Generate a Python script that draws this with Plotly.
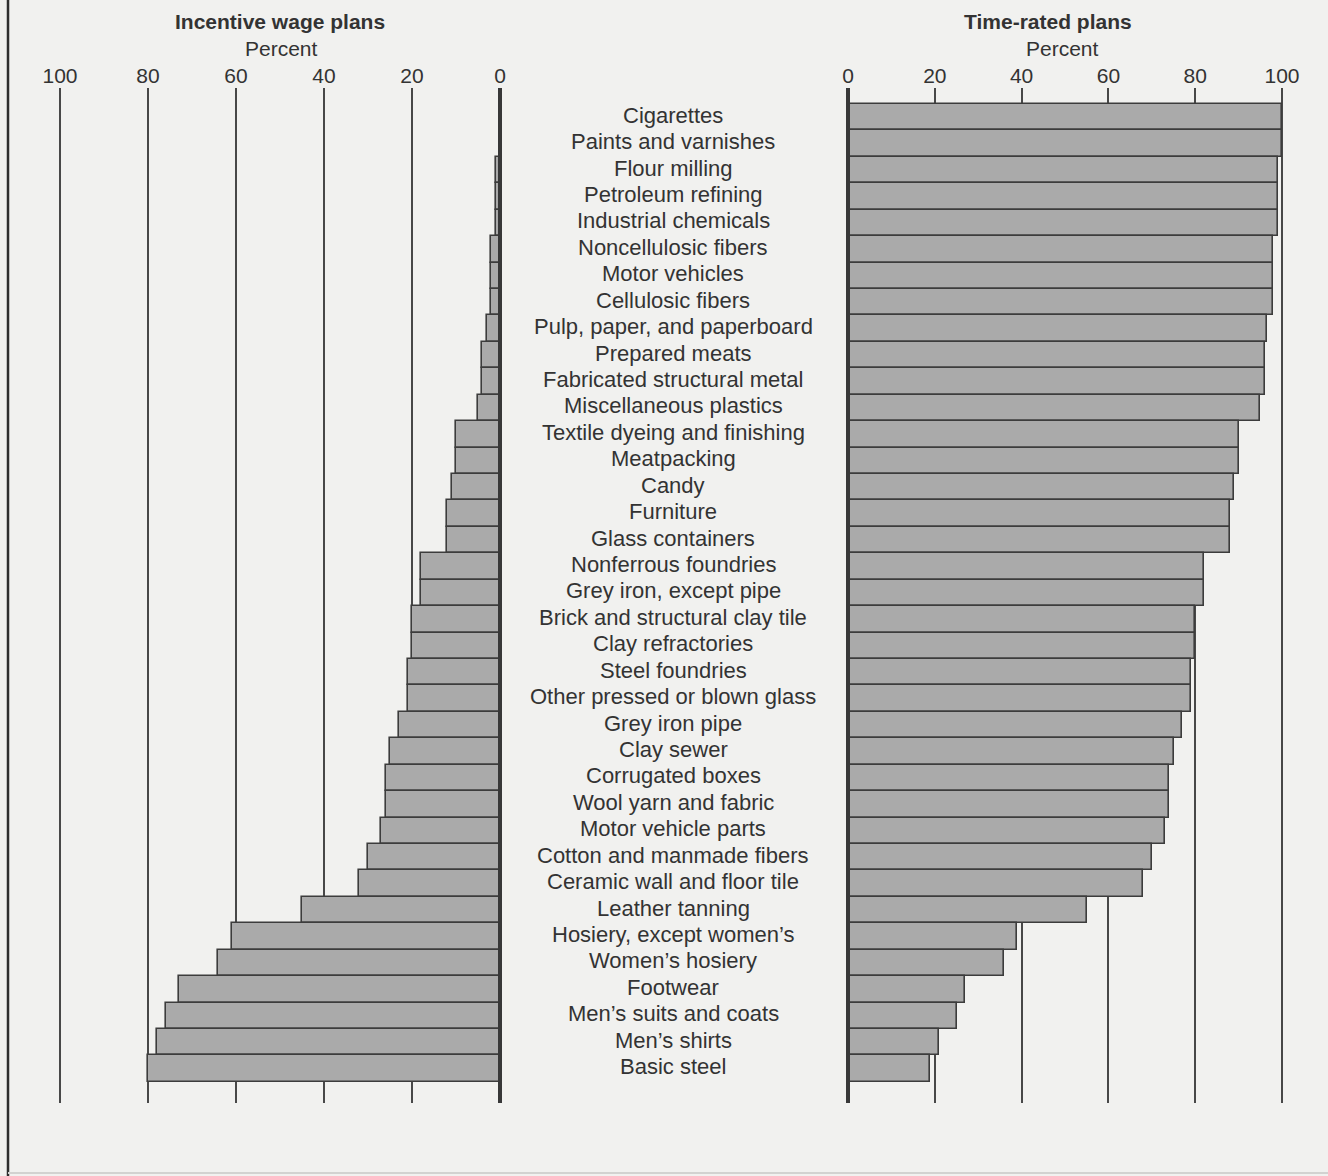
import plotly.graph_objects as go

categories = [
    "Cigarettes", "Paints and varnishes", "Flour milling", "Petroleum refining",
    "Industrial chemicals", "Noncellulosic fibers", "Motor vehicles", "Cellulosic fibers",
    "Pulp, paper, and paperboard", "Prepared meats", "Fabricated structural metal",
    "Miscellaneous plastics", "Textile dyeing and finishing", "Meatpacking", "Candy",
    "Furniture", "Glass containers", "Nonferrous foundries", "Grey iron, except pipe",
    "Brick and structural clay tile", "Clay refractories", "Steel foundries",
    "Other pressed or blown glass", "Grey iron pipe", "Clay sewer", "Corrugated boxes",
    "Wool yarn and fabric", "Motor vehicle parts", "Cotton and manmade fibers",
    "Ceramic wall and floor tile", "Leather tanning", "Hosiery, except women’s",
    "Women’s hosiery", "Footwear", "Men’s suits and coats", "Men’s shirts", "Basic steel",
]
incentive = [0, 0, 1, 1, 1, 2, 2, 2, 3, 4, 4, 5, 10, 10, 11, 12, 12, 18, 18, 20, 20,
             21, 21, 23, 25, 26, 26, 27, 30, 32, 45, 61, 64, 73, 76, 78, 80]
time_rated = [100, 100, 99, 99, 99, 98, 98, 98, 96.5, 96, 96, 95, 90, 90, 89, 88, 88,
              82, 82, 80, 80, 79, 79, 77, 75, 74, 74, 73, 70, 68, 55, 39, 36, 27, 25, 21, 19]
tick_vals = [0, 20, 40, 60, 80, 100]
tick_text = ["0", "20", "40", "60", "80", "100"]

W, H = 1328, 1176
BG = "#f1f1ef"
BAR = "#aaaaaa"
EDGE = "#3c3c3c"
TXT = "#333333"
FONT = "Liberation Sans, Arial, Helvetica, sans-serif"

fig = go.Figure()
fig.add_trace(go.Bar(y=categories, x=incentive, orientation="h", xaxis="x", yaxis="y",
                     marker=dict(color=BAR, line=dict(color=EDGE, width=1.6)),
                     showlegend=False, hoverinfo="x+y"))
fig.add_trace(go.Bar(y=categories, x=time_rated, orientation="h", xaxis="x2", yaxis="y",
                     marker=dict(color=BAR, line=dict(color=EDGE, width=1.6)),
                     showlegend=False, hoverinfo="x+y"))

# pixel geometry
top_px, bot_px = 88, 1103
bar_top, row_h = 104, 26.43
y_top = (top_px - bar_top) / row_h - 0.5
y_bot = (bot_px - bar_top) / row_h - 0.5

# left axis: 0 at x=500, 100 at x=60 (4.4 px/unit); domain 52..506
L0, LS = 500, 4.4
l_left, l_right = 52, 506
# right axis: 0 at 848, 100 at 1282 (4.34 px/unit); domain 842..1290
R0, RS = 848, 4.34
r_left, r_right = 842, 1290

axis_common = dict(
    showgrid=True, gridcolor="#484848", gridwidth=1.7, zeroline=False,
    tickmode="array", tickvals=tick_vals, ticktext=tick_text,
    side="top", ticks="", showline=False, automargin=False,
    tickfont=dict(family=FONT, size=21, color=TXT), fixedrange=True,
)

fig.update_layout(
    template="none",
    width=W, height=H, autosize=False,
    margin=dict(l=0, r=0, t=top_px, b=H - bot_px, pad=0),
    paper_bgcolor=BG, plot_bgcolor=BG,
    bargap=0,
    xaxis=dict(domain=[l_left / W, l_right / W],
               range=[(L0 - l_left) / LS, (L0 - l_right) / LS], anchor="y", **axis_common),
    xaxis2=dict(domain=[r_left / W, r_right / W],
                range=[(r_left - R0) / RS, (r_right - R0) / RS], anchor="y", **axis_common),
    yaxis=dict(range=[y_bot, y_top], showticklabels=False, showgrid=False, zeroline=False,
               showline=False, ticks="", fixedrange=True, automargin=False),
    font=dict(family=FONT, color=TXT),
)

# thick zero lines
fig.add_shape(type="line", xref="x", yref="paper", x0=0, x1=0, y0=0, y1=1,
              line=dict(color="#383838", width=4), layer="above")
fig.add_shape(type="line", xref="x2", yref="paper", x0=0, x1=0, y0=0, y1=1,
              line=dict(color="#383838", width=4), layer="above")

# frame lines (left border, bottom)
span = bot_px - top_px
fig.add_shape(type="line", xref="paper", yref="paper", x0=8 / W, x1=8 / W,
              y0=-(H - bot_px) / span, y1=1 + top_px / span,
              line=dict(color="#2e2e2e", width=2.5), layer="above")
fig.add_shape(type="line", xref="paper", yref="paper", x0=8 / W, x1=1,
              y0=-(H - bot_px - 3) / span, y1=-(H - bot_px - 3) / span,
              line=dict(color="#d2d2d0", width=2), layer="above")

# category labels
for c in categories:
    fig.add_annotation(x=673 / W, xref="paper", y=c, yref="y", text=c, showarrow=False,
                       xanchor="center", yanchor="middle", yshift=2,
                       font=dict(family=FONT, size=22, color=TXT))

def pap_y(px):
    return 1 - (px - top_px) / span

for txt, xc, yc, bold in [
    ("Incentive wage plans", 280, 22, True),
    ("Percent", 281, 48, False),
    ("Time-rated plans", 1048, 22, True),
    ("Percent", 1062, 48, False),
]:
    fig.add_annotation(x=xc / W, xref="paper", y=pap_y(yc), yref="paper",
                       text=f"<b>{txt}</b>" if bold else txt, showarrow=False,
                       xanchor="center", yanchor="middle",
                       font=dict(family=FONT, size=21, color=TXT))

fig.write_html(
    "out.html",
    config={"displayModeBar": False},
    post_script="document.body.style.margin='0';document.body.style.background='%s';"
                "document.body.style.overflow='hidden';" % BG,
)
